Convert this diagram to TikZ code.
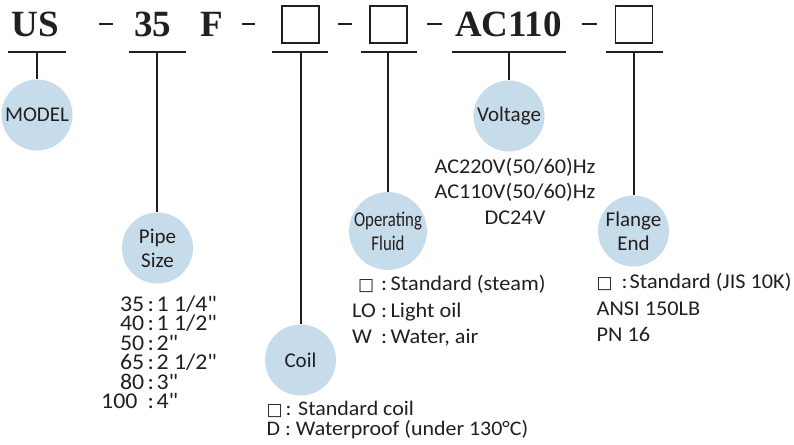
\documentclass[tikz,border=0pt]{standalone}
\usepackage{fontspec}
\setmainfont{Carlito}
\newfontfamily\tnr{Liberation Serif}
\newfontfamily\sqf{DejaVu Sans}
\newfontfamily\lstf{Carlito}[FakeStretch=1.06, Ligatures=TeXOff]
\definecolor{bub}{RGB}{198,220,234}
\definecolor{ink}{RGB}{35,31,32}
\newcommand{\sqsym}{{\sqf\fontsize{17}{17}\selectfont □}}
\tikzset{
  code/.style={font=\tnr\bfseries\fontsize{37}{37}\selectfont, text=ink, inner sep=0pt, anchor=base},
  sqbox/.style={draw=ink, line width=1.3pt, minimum size=37pt, inner sep=0pt},
  rule/.style={draw=ink, line width=1.3pt},
  bubble/.style={circle, fill=bub, minimum size=71pt, inner sep=0pt, align=center, text=ink, font=\fontsize{21}{24}\selectfont},
  lst/.style={anchor=base west, inner sep=0pt, text=ink, text height=13pt, text depth=4pt, font=\lstf\fontsize{21}{21}\selectfont},
  clst/.style={lst, font=\lstf\fontsize{20.7}{20.7}\selectfont},
  prow/.style={anchor=base west, inner sep=0pt, text=ink, text height=13pt, text depth=3pt, font=\lstf\fontsize{22.5}{22.5}\selectfont},
  vrow/.style={anchor=base, inner sep=0pt, text=ink, text height=13pt, text depth=4pt, font=\lstf\fontsize{21}{21}\selectfont},
}
\begin{document}
\begin{tikzpicture}[x=1pt,y=-1pt]
\fill[white] (0,0) rectangle (794,444);
\useasboundingbox (0,0) rectangle (794,444);

% top code line
\node[code] (us) at (35.5,37) {US};
\node[code] (n35) at (152.5,37) {35};
\node[code] (nF) at (212,37) {F};
\node[code] (ac) at (508.5,37) {AC110};
\node[sqbox] (b1) at (300.5,24.5) {};
\node[sqbox] (b2) at (388.5,24.5) {};
\node[sqbox] (b3) at (634,24.5) {};

% separators
\coordinate (d1a) at (99,24);  \coordinate (d1b) at (113,24);
\coordinate (d2a) at (242,24); \coordinate (d2b) at (255,24);
\coordinate (d3a) at (338,24); \coordinate (d3b) at (352,24);
\coordinate (d4a) at (427,24); \coordinate (d4b) at (442,24);
\coordinate (d5a) at (582,24); \coordinate (d5b) at (597,24);
\foreach \i in {1,...,5} \draw[rule] (d\i a) -- (d\i b);

% underlines
\coordinate (u1a) at (8,52);   \coordinate (u1b) at (66,52);
\coordinate (u2a) at (129,52); \coordinate (u2b) at (186,52);
\coordinate (u3a) at (272,52); \coordinate (u3b) at (328,52);
\coordinate (u4a) at (361,52); \coordinate (u4b) at (417,52);
\coordinate (u5a) at (452,52); \coordinate (u5b) at (566,52);
\coordinate (u6a) at (606,52); \coordinate (u6b) at (663,52);
\foreach \i in {1,...,6} \draw[rule] (u\i a) -- (u\i b);

% bubbles
\node[bubble] (model) at (37,115) {MODEL};
\node[bubble] (volt) at (509,116) {Voltage};
\node[bubble] (pipe) at (157.5,248) {Pipe\\Size};
\node[bubble] (coil) at (300.5,360) {Coil};
\node[bubble] (fluid) at (388,231) {\scalebox{0.8}[1]{Operating}\\\scalebox{0.8}[1]{Fluid}};
\node[bubble] (flange) at (633.5,231) {Flange\\End};

% stems
\coordinate (s1) at (37,52);
\coordinate (s2) at (157,52);
\coordinate (s3) at (301,52);
\coordinate (s4) at (388,52);
\coordinate (s5) at (509,52);
\coordinate (s6) at (634,52);
\draw[rule] (s1) -- (s1 |- model.north);
\draw[rule] (s2) -- (s2 |- pipe.north);
\draw[rule] (s3) -- (s3 |- coil.north);
\draw[rule] (s4) -- (s4 |- fluid.north);
\draw[rule] (s5) -- (s5 |- volt.north);
\draw[rule] (s6) -- (s6 |- flange.north);

% pipe sizes
\node[prow] (p1) at (101,311)   {\makebox[43pt][r]{35}\hspace{3.5pt}:\hspace{2.5pt}1 1/4"};
\node[prow] (p2) at (101,330.5) {\makebox[43pt][r]{40}\hspace{3.5pt}:\hspace{2.5pt}1 1/2"};
\node[prow] (p3) at (101,350)   {\makebox[43pt][r]{50}\hspace{3.5pt}:\hspace{2.5pt}2"};
\node[prow] (p4) at (101,369.5) {\makebox[43pt][r]{65}\hspace{3.5pt}:\hspace{2.5pt}2 1/2"};
\node[prow] (p5) at (101,389)   {\makebox[43pt][r]{80}\hspace{3.5pt}:\hspace{2.5pt}3"};
\node[prow] (p6) at (101,408.5) {\makebox[43pt][l]{100}\hspace{3.5pt}:\hspace{2.5pt}4"};

% voltage
\node[vrow] (va) at (515,173.3) {AC220V(50/60)Hz};
\node[vrow] (vb) at (515,198.7) {AC110V(50/60)Hz};
\node[vrow] (vc) at (515,224)   {DC24V};

% operating fluid
\node[lst] (f1) at (352,290.5) {\makebox[29pt][r]{\sqsym\hspace{7pt}}:\,Standard (steam)};
\node[lst] (f2) at (352,317)   {\makebox[29pt][l]{LO}:\,Light oil};
\node[lst] (f3) at (352,343.3) {\makebox[29pt][l]{W}:\,Water, air};

% flange end
\node[lst] (g1) at (596.5,288.3) {\makebox[25pt][l]{\sqsym}:\hspace{2pt}Standard (JIS 10K)};
\node[lst] (g2) at (596.5,315)   {ANSI 150LB};
\node[lst] (g3) at (596.5,341.7) {PN 16};

% coil
\node[clst] (c1) at (266.5,415) {\makebox[19pt][l]{\sqsym}: Standard coil};
\node[clst] (c2) at (266.5,435) {D : Waterproof (under 130°C)};
\end{tikzpicture}
\end{document}
